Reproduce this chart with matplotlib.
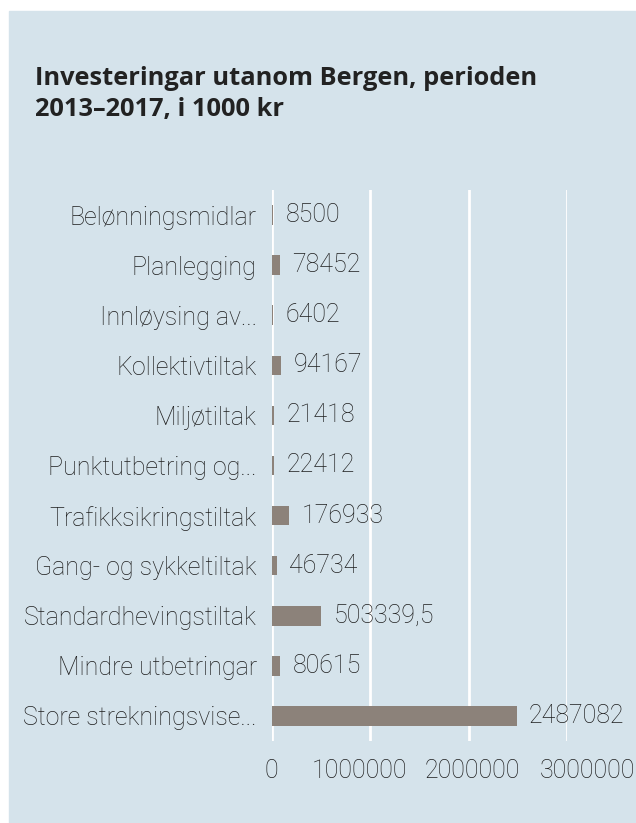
import matplotlib.pyplot as plt
from matplotlib.patches import Rectangle
from matplotlib.transforms import ScaledTranslation

categories = ["Belønningsmidlar", "Planlegging", "Innløysing av...",
              "Kollektivtiltak", "Miljøtiltak", "Punktutbetring og...",
              "Trafikksikringstiltak", "Gang- og sykkeltiltak",
              "Standardhevingstiltak", "Mindre utbetringar",
              "Store strekningsvise..."]
values = [8500, 78452, 6402, 94167, 21418, 22412, 176933, 46734,
          503339.5, 80615, 2487082]
value_labels = ["8500", "78452", "6402", "94167", "21418", "22412",
                "176933", "46734", "503339,5", "80615", "2487082"]
xticks = [0, 1000000, 2000000, 3000000]

bg = "#d5e3eb"
bar_color = "#8c827a"
text_color = "#1e1e1e"
plt.rcParams['font.family'] = ['Roboto', 'DejaVu Sans']
plt.rcParams['font.weight'] = 'light'

fig = plt.figure(figsize=(6.36, 8.23), dpi=100)
fig.patches.append(Rectangle((9 / 636, 0), 1, 1 - 11 / 823,
                             transform=fig.transFigure, color=bg, zorder=-1))

ax = fig.add_axes([272 / 636, 1 - 741 / 823, (567 - 272) / 636, (741 - 190) / 823])
ax.patch.set_alpha(0)

y = list(range(len(categories)))
ax.barh(y, values, height=0.39, color=bar_color, zorder=3)
for yi, v, lab in zip(y, values, value_labels):
    ax.annotate(lab, (v, yi), xytext=(9, 0), textcoords="offset points",
                va="center", ha="left", fontsize=18, color=text_color)

ax.set_xlim(0, 3000000)
ax.set_ylim(len(categories) - 0.5, -0.5)
ax.set_yticks(y)
ax.set_yticklabels(categories)
ax.set_xticks(xticks)
ax.set_xticklabels([str(t) for t in xticks])
ax.tick_params(axis="y", length=0, pad=11, labelsize=18, labelcolor=text_color)
ax.tick_params(axis="x", length=0, pad=13, labelsize=18, labelcolor=text_color)
ax.grid(axis="x", color="white", linewidth=2, zorder=1)
ax.set_axisbelow(True)
for s in ax.spines.values():
    s.set_visible(False)

# the x labels in the original sit unevenly around their gridlines
shifts = [-1, -11, 4, 20]
for lab, dx in zip(ax.get_xticklabels(), shifts):
    lab.set_transform(lab.get_transform() + ScaledTranslation(dx / 100, 0, fig.dpi_scale_trans))

title_lines = ["Investeringar utanom Bergen, perioden", "2013–2017, i 1000 kr"]
for i, line in enumerate(title_lines):
    fig.text(35 / 636, 1 - (85 + 31 * i) / 823, line, fontsize=18.3,
             fontweight="bold", family=["Open Sans", "DejaVu Sans"],
             color="#222222", va="baseline", ha="left")

fig.savefig("out.png", dpi=100)
